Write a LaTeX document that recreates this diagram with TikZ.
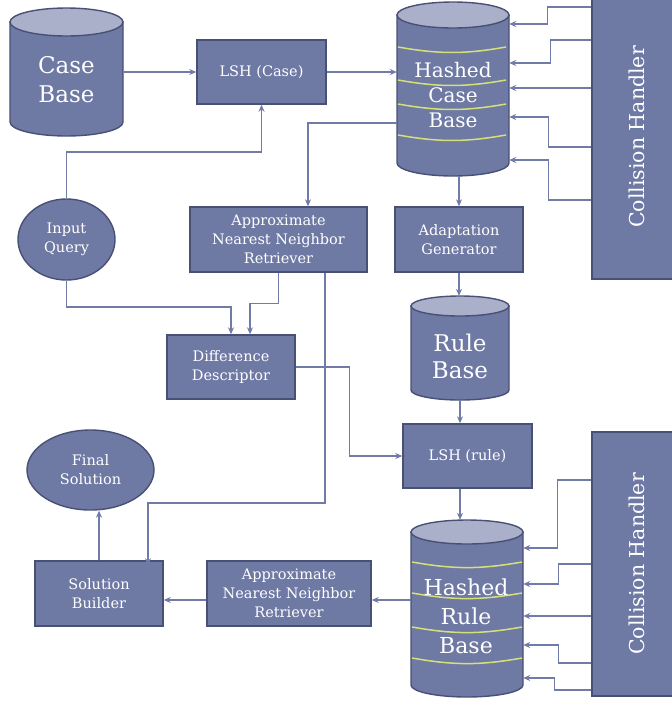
\documentclass[tikz,border=0pt]{standalone}
\usepackage{fontspec}
\setmainfont{DejaVu Serif}
\usetikzlibrary{arrows.meta,shapes.geometric,calc}
\definecolor{boxfill}{RGB}{110,121,164}
\definecolor{boxline}{RGB}{72,80,118}
\definecolor{toplight}{RGB}{170,176,201}
\definecolor{conn}{RGB}{112,123,168}
\definecolor{yel}{RGB}{214,224,120}
\newcommand{\dbcyl}[6]{%
  \draw[draw=boxline,line width=1.4pt,fill=boxfill] (#2-#5,-#3) -- (#2-#5,-#4) arc[start angle=180,end angle=360,x radius=#5,y radius=#6] -- (#2+#5,-#3) -- cycle;
  \draw[draw=boxline,line width=1.4pt,fill=toplight] (#2,-#3) ellipse[x radius=#5,y radius=#6];
  \node[inner sep=0,minimum width={2*#5*1pt},minimum height={(#4-#3+2*#6)*1pt}] (#1) at (#2,{-(#3+#4)/2}) {};
}
\begin{document}
\begin{tikzpicture}[x=1pt,y=1pt,
  box/.style={draw=boxline,line width=1.4pt,fill=boxfill,text=white,align=center,inner sep=0,font=\fontsize{14.5}{19}\selectfont},
  oval/.style={box,ellipse},
  cyltext/.style={text=white,align=center,inner sep=0},
  arr/.style={draw=conn,line width=1.4pt,-{Stealth[length=7pt,width=6pt]}},
  yline/.style={draw=yel,line width=1.5pt}]
\useasboundingbox (0,0) rectangle (672,-702);

% cylinders
\dbcyl{cb}{66.5}{22}{122}{56.5}{14}
\node[cyltext,font=\fontsize{23}{29}\selectfont] (cbt) at (66.5,-80) {Case\\Base};

\dbcyl{hcb}{453}{15}{163}{56}{13}
\draw[yline] (398,-47) to[bend right=10] (506,-47);
\draw[yline] (398,-80) to[bend right=10] (506,-80);
\draw[yline] (398,-104) to[bend right=10] (506,-104);
\draw[yline] (398,-135) to[bend right=10] (506,-135);
\node[cyltext,font=\fontsize{20}{25}\selectfont] (hcbt) at (453,-95) {Hashed\\Case\\Base};

\dbcyl{rb}{460}{306}{390}{49}{10}
\node[cyltext,font=\fontsize{23}{27}\selectfont] (rbt) at (460,-356) {Rule\\Base};

\dbcyl{hrb}{467}{532}{685}{56}{12}
\draw[yline] (412,-562) to[bend right=10] (522,-562);
\draw[yline] (412,-593) to[bend right=10] (522,-593);
\draw[yline] (412,-627) to[bend right=10] (522,-627);
\draw[yline] (412,-658) to[bend right=10] (522,-658);
\node[cyltext,font=\fontsize{22}{29}\selectfont] (hrbt) at (466,-616) {Hashed\\Rule\\Base};

% boxes
\node[box,minimum width=129pt,minimum height=64pt] (lshc) at (261.5,-72) {LSH (Case)};
\node[box,minimum width=128pt,minimum height=65pt] (adapt) at (459,-239.5) {Adaptation\\Generator};
\node[box,minimum width=177pt,minimum height=65pt] (annt) at (278.5,-239.5) {Approximate\\Nearest Neighbor\\Retriever};
\node[box,minimum width=128pt,minimum height=64pt] (dd) at (231,-367) {Difference\\Descriptor};
\node[box,minimum width=129pt,minimum height=64pt] (lshr) at (467.5,-456) {LSH (rule)};
\node[box,minimum width=164pt,minimum height=65pt] (annl) at (289,-593.5) {Approximate\\Nearest Neighbor\\Retriever};
\node[box,minimum width=128pt,minimum height=65pt] (sb) at (99,-593.5) {Solution\\Builder};
\node[oval,minimum width=97pt,minimum height=81pt] (iq) at (66.5,-239.5) {Input\\Query};
\node[oval,minimum width=127pt,minimum height=80pt] (fs) at (90.5,-470) {Final\\Solution};
\node[box,minimum width=90pt,minimum height=284pt,font=\fontsize{20.5}{24}\selectfont] (ch1) at (637,-137) {\rotatebox{90}{Collision Handler}};
\node[box,minimum width=90pt,minimum height=264pt,font=\fontsize{20.5}{24}\selectfont] (ch2) at (637,-564) {\rotatebox{90}{Collision Handler}};

% connectors
\draw[arr] (cb.east|-lshc.west) -- (lshc.west);
\draw[arr] (lshc.east) -- (hcb.west|-lshc.east);
\draw[arr] (hcb.west|-0,-123) -| ($(annt.north)+(29.5,0)$);
\draw[arr] (adapt.north|-hcb.south) -- (adapt.north);
\draw[arr] (adapt.south) -- (adapt.south|-rb.north);
\draw[arr] (iq.north) |- (lshc.south|-0,-152) -- (lshc.south);
\draw[arr] (iq.south) |- (dd.north|-0,-307) -- (dd.north);
\draw[arr] (annt.south) -- ++(0,-31) -| ($(dd.north)+(19,0)$);
\draw[arr] ($(annt.south)+(46.5,0)$) |- (148,-503) -- ($(sb.north)+(49,-5)$);
\draw[arr] (dd.east) -- ++(54,0) |- (lshr.west);
\draw[arr] (rb.south) -- (rb.south|-lshr.north);
\draw[arr] (rb.south|-lshr.south) -- (rb.south|-hrb.north);
\draw[arr] (hrb.west|-0,-600) -- (annl.east|-0,-600);
\draw[arr] (annl.west|-0,-600) -- (sb.east|-0,-600);
\draw[arr] (sb.north) -- (sb.north|-fs.south);

% collision handler (upper)
\draw[arr] (ch1.west|-0,-7) -- ++(-44,0) |- (hcb.east|-0,-24);
\draw[arr] (ch1.west|-0,-40) -- ++(-41,0) |- (hcb.east|-0,-63);
\draw[arr] (ch1.west|-0,-88) -- (hcb.east|-0,-88);
\draw[arr] (ch1.west|-0,-147) -- ++(-43,0) |- (hcb.east|-0,-117);
\draw[arr] (ch1.west|-0,-200) -- ++(-43,0) |- (hcb.east|-0,-160);
% collision handler (lower)
\draw[arr] (ch2.west|-0,-480) -- ++(-34,0) |- (hrb.east|-0,-548);
\draw[arr] (ch2.west|-0,-564) -- ++(-33,0) |- (hrb.east|-0,-584);
\draw[arr] (ch2.west|-0,-616) -- (hrb.east|-0,-616);
\draw[arr] (ch2.west|-0,-663) -- ++(-33,0) |- (hrb.east|-0,-645);
\draw[arr] (ch2.west|-0,-690) -- ++(-37,0) |- (hrb.east|-0,-678);
\end{tikzpicture}
\end{document}
